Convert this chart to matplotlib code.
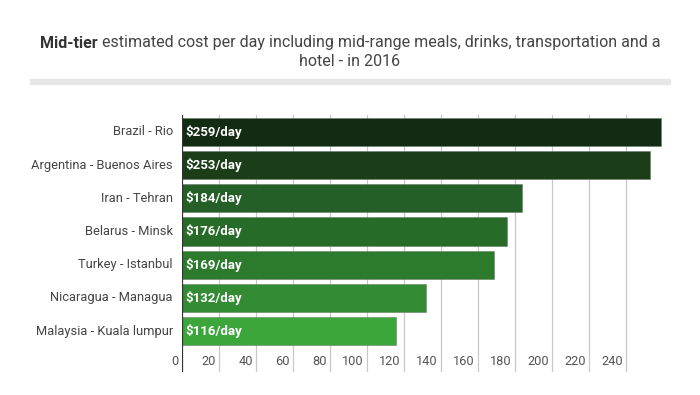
import matplotlib
matplotlib.use("Agg")
import matplotlib.pyplot as plt
from matplotlib.patches import Rectangle
import matplotlib.transforms as mtransforms

plt.rcParams['font.family'] = ['Roboto', 'DejaVu Sans']

cities = ["Brazil - Rio", "Argentina - Buenos Aires", "Iran - Tehran", "Belarus - Minsk",
          "Turkey - Istanbul", "Nicaragua - Managua", "Malaysia - Kuala lumpur"]
costs = [259, 253, 184, 176, 169, 132, 116]
bar_labels = ["$259/day", "$253/day", "$184/day", "$176/day", "$169/day", "$132/day", "$116/day"]
colors = ["#132b12", "#1b3e19", "#235f26", "#276b29", "#2c7b2d", "#338c34", "#3ca63b"]
xticks = [0, 20, 40, 60, 80, 100, 120, 140, 160, 180, 200, 220, 240]

W, H = 700, 395
fig = plt.figure(figsize=(W / 100, H / 100), dpi=100)
ax = fig.add_axes([182 / W, 1 - 372 / H, (672 - 182) / W, (372 - 115) / H])

ypos = list(range(len(cities)))
ax.barh(ypos, costs, height=0.85, color=colors, edgecolor="#6b7f6b", linewidth=0.4, zorder=3)
ax.set_xlim(0, 265)
ax.set_ylim(7.235, -0.51)

for s in ax.spines.values():
    s.set_visible(False)
ax.axvline(0, color="#333333", linewidth=1.6, zorder=4)
for t in xticks[1:]:
    ax.axvline(t, color="#c8c8c8", linewidth=0.9, zorder=1)

ax.set_xticks([])
ax.set_yticks([])

off = mtransforms.offset_copy(ax.transData, fig=fig, x=-3, y=0, units='dots')
for t in xticks:
    ax.text(t, 6.93, str(t), transform=off, ha="right", va="center",
            fontsize=9.2, color="#555555")

lab_off = mtransforms.offset_copy(ax.transData, fig=fig, x=-9, y=0, units='dots')
for y, c in zip(ypos, cities):
    ax.text(0, y, c, transform=lab_off, ha="right", va="center", fontsize=9.3, color="#444444")

in_off = mtransforms.offset_copy(ax.transData, fig=fig, x=3, y=0, units='dots')
for y, l in zip(ypos, bar_labels):
    ax.text(0, y, l, transform=in_off, ha="left", va="center", fontsize=9.5,
            color="white", fontweight="bold", zorder=5)

# Title (two lines, first word bold)
t1 = fig.text(0, 1 - 43 / H, "Mid-tier", fontsize=11.5, fontweight="bold", color="#333333",
              ha="left", va="center")
t2 = fig.text(0, 1 - 43 / H, " estimated cost per day including mid-range meals, drinks, transportation and a",
              fontsize=11.5, color="#444444", ha="left", va="center")
fig.canvas.draw()
r = fig.canvas.get_renderer()
w1 = t1.get_window_extent(r).width
w2 = t2.get_window_extent(r).width
x0 = (W - (w1 + w2)) / 2
t1.set_x(x0 / W)
t2.set_x((x0 + w1) / W)
fig.text(0.5, 1 - 62 / H, "hotel - in 2016", fontsize=11.5, color="#444444", ha="center", va="center")

fig.patches.append(Rectangle((30 / W, 1 - 84 / H), 640 / W, 5 / H, transform=fig.transFigure,
                             color="#e6e6e6", zorder=0))

fig.savefig("out.png", dpi=100)
